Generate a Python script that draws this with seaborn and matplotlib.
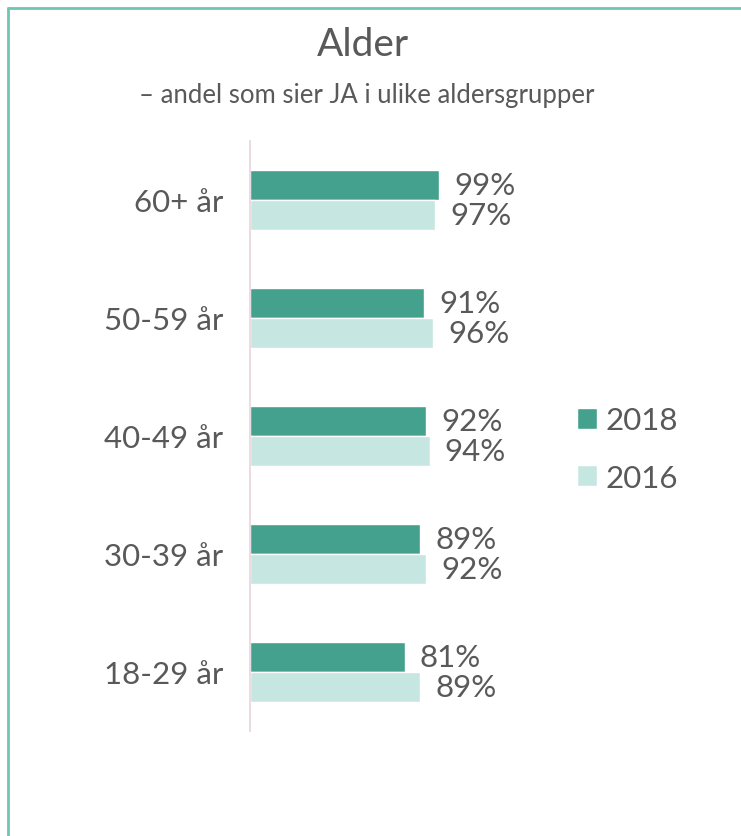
import numpy as np
import pandas as pd
import matplotlib
matplotlib.use("Agg")
import matplotlib.pyplot as plt
from matplotlib.lines import Line2D
import seaborn as sns

# data
age_groups = ["60+ år", "50-59 år", "40-49 år", "30-39 år", "18-29 år"]
years = ["2018", "2016"]
share_2018 = [99, 91, 92, 89, 81]
share_2016 = [97, 96, 94, 92, 89]

title = "Alder"
subtitle = "– andel som sier JA i ulike aldersgrupper"

colors = {"2018": "#44A18D", "2016": "#C6E7E1"}
text_color = "#595959"
border_color = "#6FC5B3"

df = pd.DataFrame({
    "group": age_groups * 2,
    "year": [years[0]] * len(age_groups) + [years[1]] * len(age_groups),
    "share": share_2018 + share_2016,
})

sns.set_style("white")
plt.rcParams["font.family"] = ["Lato", "DejaVu Sans"]

W, H = 741, 837
fig = plt.figure(figsize=(W / 100, H / 100), dpi=100)

# axes placed in pixel terms: x=0 at 250px, 100% at ~441px, y 142..732
left, right, top, bottom = 250, 441, 142, 732
ax = fig.add_axes([left / W, 1 - bottom / H, (right - left) / W, (bottom - top) / H])

sns.barplot(data=df, x="share", y="group", hue="year", order=age_groups,
            hue_order=years, palette=colors, width=0.51, orient="h",
            saturation=1, ax=ax, legend=True)

ax.set_xlim(0, 100)
ax.set_ylim(len(age_groups) - 0.5, -0.5)
ax.set_xlabel("")
ax.set_ylabel("")
ax.set_xticks([])
ax.tick_params(axis="y", length=0, pad=19, labelsize=22.5, labelcolor=text_color)
for s in ["top", "right", "bottom"]:
    ax.spines[s].set_visible(False)
ax.spines["left"].set_color("#E6D5DB")
ax.spines["left"].set_linewidth(1.2)

for container in ax.containers:
    ax.bar_label(container, labels=[f"{int(v)}%" for v in container.datavalues],
                 padding=11, fontsize=22.5, color=text_color, clip_on=False)

handles, labels = ax.get_legend_handles_labels()
ax.legend(handles, labels, loc="center left", bbox_to_anchor=(577 / W, 1 - 450 / H),
          bbox_transform=fig.transFigure, frameon=False, fontsize=22.5,
          labelcolor=text_color, handlelength=0.65, handleheight=0.65,
          handletextpad=0.25, labelspacing=0.95, borderpad=0, borderaxespad=0)

fig.text(363 / W, 1 - 45 / H, title, ha="center", va="center",
         fontsize=28, color=text_color)
fig.text(367 / W, 1 - 95 / H, subtitle, ha="center", va="center",
         fontsize=18.5, color=text_color)

# frame lines of the slide
fig.add_artist(Line2D([8 / W, 1], [1 - 9 / H, 1 - 9 / H], color=border_color,
                      lw=2, transform=fig.transFigure))
fig.add_artist(Line2D([8 / W, 8 / W], [0, 1 - 9 / H], color=border_color,
                      lw=2, transform=fig.transFigure))

fig.savefig("out.png", dpi=100, facecolor="white")
